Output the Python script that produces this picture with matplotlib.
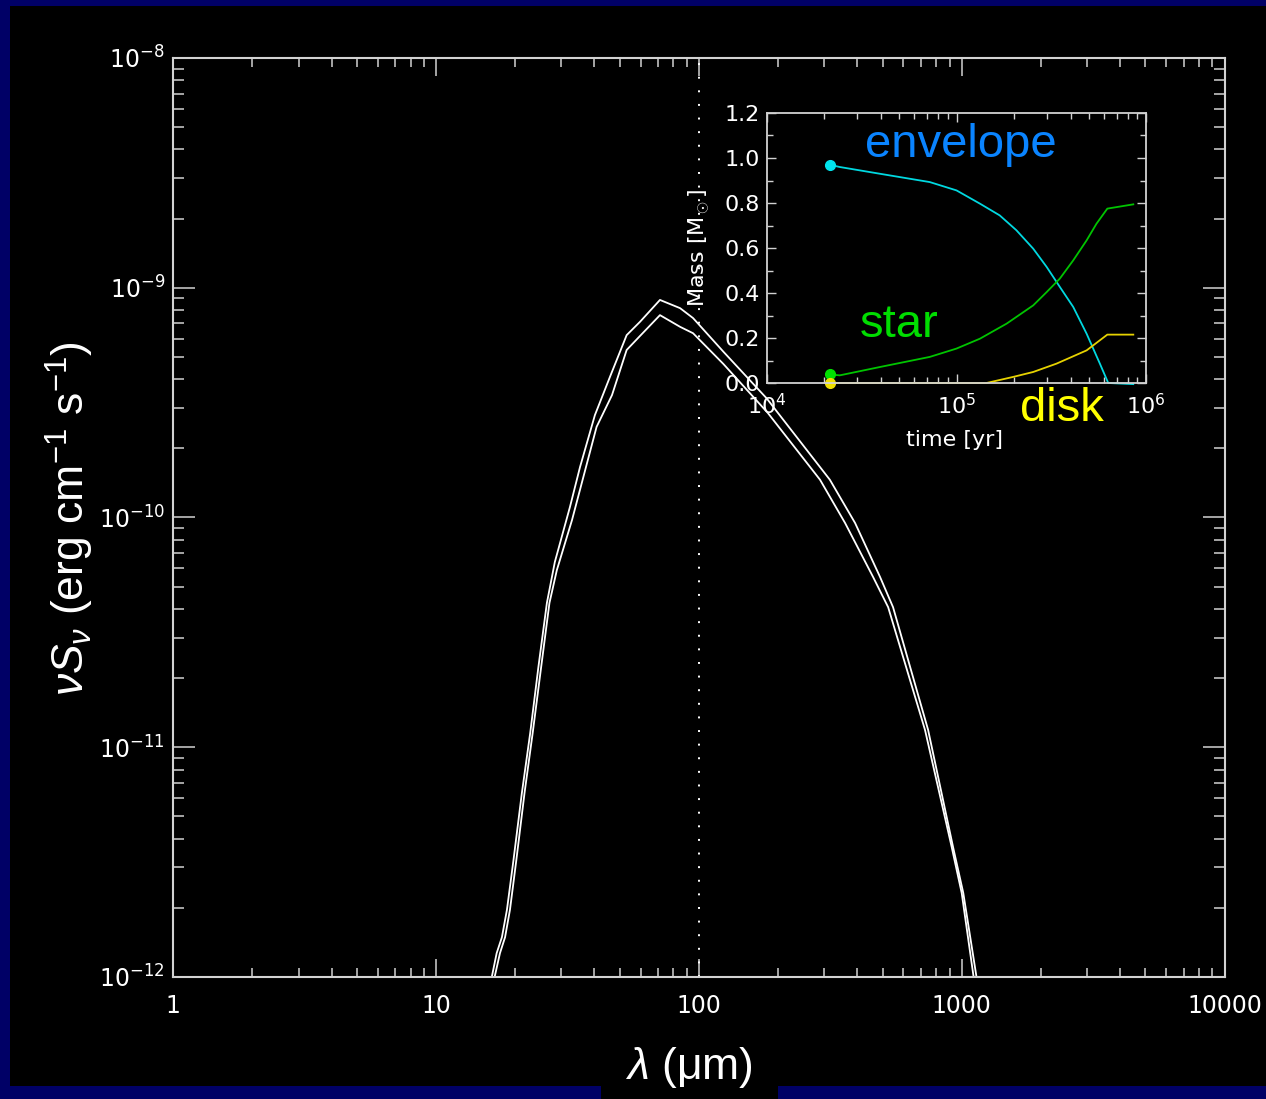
"""Model SED of an embedded protostar with its mass evolution as an inset."""

import matplotlib

matplotlib.use("Agg")
import matplotlib.pyplot as plt
from matplotlib.patches import Rectangle
from matplotlib.ticker import (
    FixedFormatter,
    FixedLocator,
    FormatStrFormatter,
    LogLocator,
    NullFormatter,
)

# SED, two model epochs: wavelength [micron], nu*S_nu [erg cm^-1 s^-1]
wave_a = [16.2, 17.0, 17.8, 18.6, 19.7, 21.2, 22.8, 24.5, 26.4, 28.3, 32.3, 35.3, 40.2, 45.9,
          53.1, 59.7, 71.1, 84.8, 95.0, 123.9, 181.1, 200.0, 315.0, 393.0, 489.0, 548.0,
          745.0, 927.0, 1014.0, 1150.0]
flux_a = [9.7e-13, 1.27e-12, 1.49e-12, 1.96e-12, 3.23e-12, 6.32e-12, 1.15e-11, 2.23e-11,
          4.25e-11, 6.40e-11, 1.11e-10, 1.66e-10, 2.79e-10, 4.10e-10, 6.22e-10, 7.11e-10,
          8.85e-10, 8.15e-10, 7.38e-10, 5.27e-10, 3.30e-10, 2.85e-10, 1.46e-10, 9.46e-11,
          5.51e-11, 4.07e-11, 1.19e-11, 3.68e-12, 2.32e-12, 9.3e-13]

wave_b = [16.6, 17.5, 18.3, 19.1, 20.2, 21.7, 23.3, 25.1, 27.0, 28.8, 32.9, 40.8, 46.7, 53.1,
          59.7, 71.1, 84.8, 95.0, 123.9, 183.0, 289.0, 360.0, 460.0, 525.0, 725.0, 916.0,
          1000.0, 1120.0]
flux_b = [9.7e-13, 1.27e-12, 1.49e-12, 1.96e-12, 3.23e-12, 6.32e-12, 1.15e-11, 2.23e-11,
          4.25e-11, 5.90e-11, 9.75e-11, 2.48e-10, 3.41e-10, 5.36e-10, 6.17e-10, 7.60e-10,
          6.76e-10, 6.34e-10, 4.66e-10, 2.85e-10, 1.46e-10, 9.46e-11, 5.51e-11, 4.07e-11,
          1.19e-11, 3.68e-12, 2.32e-12, 9.3e-13]

wave_ticks = [1, 10, 100, 1000, 10000]
wave_tick_labels = ["1", "10", "100", "1000", "10000"]
marker_wave = 100

# mass budget vs time: time [yr], mass [M_sun]
time_env = [2.14e4, 2.42e4, 3.94e4, 7.23e4, 1.0e5, 1.33e5, 1.69e5, 2.07e5, 2.54e5, 2.99e5,
            3.51e5, 4.13e5, 4.86e5, 5.71e5, 6.32e5, 8.57e5]
mass_env = [0.970, 0.960, 0.930, 0.893, 0.856, 0.797, 0.745, 0.679, 0.597, 0.516, 0.427,
            0.338, 0.219, 0.086, 0.0, -0.005]

time_star = [2.14e4, 2.42e4, 3.94e4, 7.23e4, 1.0e5, 1.33e5, 1.84e5, 2.54e5, 2.99e5, 3.51e5,
             4.13e5, 4.86e5, 5.48e5, 6.25e5, 8.57e5]
mass_star = [0.038, 0.034, 0.071, 0.116, 0.153, 0.197, 0.264, 0.345, 0.404, 0.464, 0.545,
             0.634, 0.708, 0.775, 0.794]

time_disk = [2.14e4, 1.44e5, 1.99e5, 2.54e5, 3.37e5, 4.86e5, 6.25e5, 8.57e5]
mass_disk = [0.0, 0.0, 0.027, 0.049, 0.086, 0.145, 0.215, 0.215]

mass_ticks = [0.0, 0.2, 0.4, 0.6, 0.8, 1.0, 1.2]

NAVY = "#000066"
AXIS_GRAY = "#d2d2d2"

plt.rcParams.update(
    {
        "font.family": ["DejaVu Sans"],
        "mathtext.fontset": "custom",
        "mathtext.rm": "Liberation Sans",
        "mathtext.it": "Liberation Sans:italic",
        "mathtext.bf": "Liberation Sans:bold",
    }
)

fig = plt.figure(figsize=(12.66, 10.99), dpi=100, facecolor=NAVY)
# black slide area inside the navy frame, plus the tab under the x label
fig.patches.append(
    Rectangle((10 / 1266, 1 - 1086 / 1099), 1.0, (1086 - 6) / 1099,
              transform=fig.transFigure, facecolor="black", edgecolor="none", zorder=-10)
)
fig.patches.append(
    Rectangle((601 / 1266, 0.0), 177 / 1266, 20 / 1099,
              transform=fig.transFigure, facecolor="black", edgecolor="none", zorder=-10)
)

# ---- main SED panel ----
ax = fig.add_axes([173.3 / 1266, 1 - 977 / 1099, 1051.2 / 1266, 919 / 1099])
ax.set_facecolor("black")
ax.set_xscale("log")
ax.set_yscale("log")
ax.set_xlim(1, 1e4)
ax.set_ylim(1e-12, 1e-8)

ax.plot(wave_a, flux_a, color="white", linewidth=1.3)
ax.plot(wave_b, flux_b, color="white", linewidth=1.3)
ax.axvline(marker_wave, color="white", linewidth=1.4, linestyle=(0, (1, 6)))

for spine in ax.spines.values():
    spine.set_color(AXIS_GRAY)
    spine.set_linewidth(1.5)

ax.xaxis.set_major_locator(FixedLocator(wave_ticks))
ax.xaxis.set_major_formatter(FixedFormatter(wave_tick_labels))
ax.xaxis.set_minor_locator(LogLocator(base=10, subs=range(2, 10), numticks=20))
ax.xaxis.set_minor_formatter(NullFormatter())
ax.yaxis.set_major_locator(LogLocator(base=10, numticks=10))
ax.yaxis.set_minor_locator(LogLocator(base=10, subs=range(2, 10), numticks=20))
ax.yaxis.set_minor_formatter(NullFormatter())

ax.tick_params(which="both", direction="in", top=True, right=True, color=AXIS_GRAY,
               labelcolor="white", labelsize=17, width=1.1)
ax.tick_params(axis="x", which="major", length=13, pad=12)
ax.tick_params(axis="x", which="minor", length=6.5)
ax.tick_params(axis="y", which="major", length=16, pad=6)
ax.tick_params(axis="y", which="minor", length=8)

fig.text(70 / 1266, 1 - 519 / 1099, r"$\nu S_\nu$ (erg cm$^{-1}$ s$^{-1}$)",
         rotation=90, ha="center", va="center", fontsize=32, color="white",
         family="Liberation Sans")
fig.text(689 / 1266, 1 - 1068 / 1099, r"$\lambda$ (μm)", ha="center", va="center",
         fontsize=32, color="white", family="Liberation Sans")

# ---- inset: mass evolution ----
ax_in = fig.add_axes([767 / 1266, 1 - 383 / 1099, 379 / 1266, 270 / 1099])
ax_in.set_facecolor("black")
ax_in.set_xscale("log")
ax_in.set_xlim(1e4, 1e6)
ax_in.set_ylim(0, 1.2)

ax_in.plot(time_env, mass_env, color="#00d8e0", linewidth=1.3, clip_on=False)
ax_in.plot(time_star, mass_star, color="#00c400", linewidth=1.3, clip_on=False)
ax_in.plot(time_disk, mass_disk, color="#e6d200", linewidth=1.3, clip_on=False)
ax_in.plot(time_env[0], mass_env[0], "o", color="#00e5ee", markersize=7, clip_on=False)
ax_in.plot(time_star[0], mass_star[0], "o", color="#00e000", markersize=7, clip_on=False)
ax_in.plot(time_disk[0], mass_disk[0], "o", color="#f0e000", markersize=7, clip_on=False)

for spine in ax_in.spines.values():
    spine.set_color(AXIS_GRAY)
    spine.set_linewidth(1.3)

ax_in.yaxis.set_major_locator(FixedLocator(mass_ticks))
ax_in.yaxis.set_major_formatter(FormatStrFormatter("%.1f"))
ax_in.yaxis.set_minor_locator(FixedLocator([m + 0.1 for m in mass_ticks[:-1]]))
ax_in.xaxis.set_minor_locator(LogLocator(base=10, subs=range(2, 10), numticks=20))
ax_in.xaxis.set_minor_formatter(NullFormatter())
ax_in.tick_params(which="both", direction="in", top=True, right=True, color=AXIS_GRAY,
                  labelcolor="white", labelsize=16, width=1.0)
ax_in.tick_params(which="major", length=6.5)
ax_in.tick_params(which="minor", length=4)
ax_in.tick_params(axis="y", pad=5)
ax_in.tick_params(axis="x", pad=7)

ax_in.set_ylabel(r"Mass [M$_\odot$]", color="white", fontsize=16, family="DejaVu Sans")
ax_in.yaxis.set_label_coords(-0.145, 0.5)
ax_in.set_xlabel("time [yr]", color="white", fontsize=16)
ax_in.xaxis.set_label_coords(0.496, -0.174)

fig.text(865 / 1266, 1 - 157 / 1099, "envelope", color="#0a84ff", fontsize=34,
         family="Liberation Sans", va="baseline")
fig.text(860 / 1266, 1 - 337 / 1099, "star", color="#00dd00", fontsize=34,
         family="Liberation Sans", va="baseline")
fig.text(1020 / 1266, 1 - 421 / 1099, "disk", color="#ffff00", fontsize=34,
         family="Liberation Sans", va="baseline")

fig.savefig("out.png", dpi=100, facecolor=NAVY)
plt.close(fig)
